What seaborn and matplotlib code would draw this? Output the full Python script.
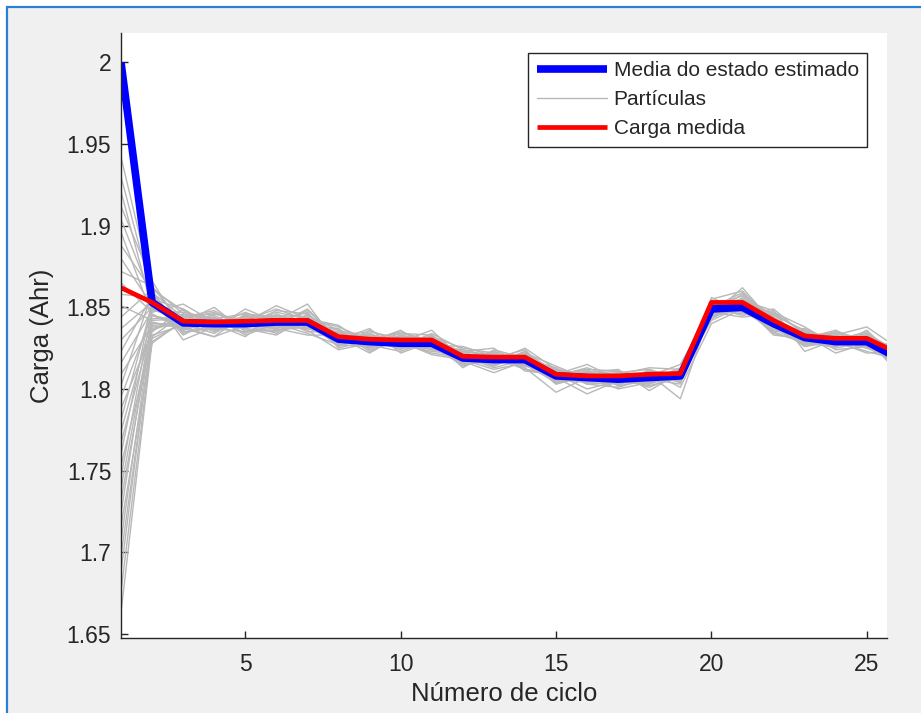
import numpy as np
import pandas as pd
import seaborn as sns
import matplotlib.pyplot as plt
from matplotlib.lines import Line2D
from matplotlib.patches import Rectangle

# Ciclos 1..26 (o eixo termina um pouco antes de 26)
ciclos = list(range(1, 27))

# Media do estado estimado (Ahr)
media_estimada = [2.000, 1.853, 1.8405, 1.840, 1.840, 1.841, 1.841, 1.8305, 1.829, 1.828,
                  1.828, 1.819, 1.818, 1.818, 1.808, 1.807, 1.806, 1.807, 1.808, 1.849,
                  1.850, 1.840, 1.8315, 1.829, 1.829, 1.819]

# Carga medida (Ahr)
carga_medida = [1.862, 1.853, 1.8415, 1.841, 1.8415, 1.842, 1.842, 1.832, 1.8305, 1.830,
                1.830, 1.820, 1.8195, 1.8195, 1.809, 1.808, 1.808, 1.809, 1.8095, 1.853,
                1.853, 1.842, 1.8325, 1.831, 1.831, 1.822]

# Particulas, em mAhr (uma linha por particula, ciclos 1..26)
particulas_mah = [
    [1942, 1862, 1846, 1843, 1838, 1845, 1844, 1833, 1826, 1831, 1830, 1822, 1815, 1821, 1811, 1804, 1809, 1810, 1805, 1852, 1855, 1843, 1834, 1826, 1832, 1822],
    [1930, 1858, 1838, 1846, 1842, 1837, 1843, 1828, 1833, 1826, 1825, 1823, 1820, 1815, 1805, 1810, 1808, 1803, 1811, 1846, 1853, 1846, 1828, 1833, 1827, 1816],
    [1921, 1849, 1843, 1835, 1844, 1843, 1838, 1834, 1827, 1832, 1831, 1816, 1821, 1820, 1812, 1803, 1804, 1809, 1806, 1851, 1847, 1838, 1835, 1826, 1833, 1821],
    [1912, 1866, 1836, 1842, 1839, 1848, 1846, 1829, 1831, 1824, 1833, 1820, 1814, 1823, 1806, 1811, 1802, 1805, 1813, 1847, 1858, 1842, 1830, 1832, 1825, 1817],
    [1904, 1855, 1849, 1838, 1845, 1836, 1840, 1836, 1825, 1830, 1826, 1824, 1819, 1812, 1810, 1805, 1810, 1812, 1804, 1853, 1849, 1835, 1836, 1828, 1831, 1824],
    [1896, 1845, 1841, 1850, 1835, 1842, 1852, 1827, 1830, 1835, 1829, 1815, 1823, 1818, 1803, 1809, 1807, 1801, 1809, 1844, 1856, 1844, 1829, 1830, 1835, 1815],
    [1888, 1860, 1834, 1839, 1847, 1839, 1837, 1831, 1834, 1827, 1823, 1821, 1816, 1822, 1814, 1806, 1803, 1808, 1815, 1850, 1845, 1849, 1833, 1822, 1828, 1820],
    [1880, 1851, 1845, 1836, 1841, 1851, 1843, 1839, 1826, 1829, 1836, 1818, 1812, 1816, 1807, 1812, 1811, 1806, 1803, 1848, 1852, 1837, 1827, 1835, 1830, 1826],
    [1872, 1863, 1839, 1844, 1833, 1840, 1848, 1832, 1822, 1833, 1827, 1826, 1820, 1814, 1809, 1800, 1805, 1811, 1808, 1855, 1860, 1841, 1832, 1829, 1823, 1818],
    [1865, 1847, 1852, 1841, 1843, 1838, 1841, 1826, 1832, 1825, 1831, 1813, 1824, 1819, 1804, 1808, 1800, 1804, 1810, 1842, 1851, 1847, 1838, 1827, 1834, 1823],
    [1858, 1856, 1837, 1832, 1846, 1844, 1835, 1835, 1829, 1836, 1824, 1822, 1817, 1825, 1812, 1805, 1808, 1809, 1794, 1849, 1848, 1839, 1826, 1831, 1829, 1813],
    [1851, 1842, 1843, 1847, 1837, 1833, 1844, 1830, 1837, 1822, 1829, 1817, 1810, 1817, 1808, 1813, 1806, 1802, 1807, 1851, 1857, 1845, 1836, 1824, 1826, 1821],
    [1844, 1861, 1848, 1840, 1832, 1846, 1839, 1837, 1824, 1830, 1832, 1825, 1822, 1813, 1798, 1807, 1809, 1813, 1812, 1846, 1850, 1834, 1829, 1833, 1838, 1825],
    [1837, 1853, 1835, 1837, 1849, 1841, 1847, 1825, 1830, 1828, 1822, 1819, 1815, 1820, 1811, 1803, 1801, 1807, 1805, 1856, 1847, 1843, 1831, 1836, 1827, 1816],
    [1830, 1850, 1842, 1845, 1836, 1837, 1833, 1833, 1835, 1831, 1827, 1814, 1819, 1824, 1806, 1810, 1812, 1799, 1810, 1845, 1862, 1840, 1834, 1827, 1832, 1819],
    [1823, 1857, 1830, 1838, 1842, 1849, 1842, 1829, 1827, 1823, 1830, 1823, 1825, 1811, 1809, 1815, 1806, 1805, 1808, 1852, 1854, 1848, 1823, 1830, 1825, 1822],
    [1816, 1848, 1847, 1843, 1840, 1834, 1845, 1836, 1831, 1834, 1833, 1820, 1813, 1818, 1813, 1804, 1803, 1811, 1801, 1840, 1849, 1836, 1837, 1828, 1831, 1810],
    [1809, 1839, 1840, 1834, 1845, 1843, 1836, 1824, 1828, 1826, 1825, 1816, 1821, 1815, 1804, 1808, 1810, 1808, 1811, 1848, 1846, 1844, 1830, 1825, 1829, 1824],
    [1802, 1859, 1844, 1848, 1838, 1839, 1849, 1831, 1833, 1829, 1821, 1818, 1818, 1821, 1807, 1797, 1805, 1806, 1807, 1850, 1859, 1838, 1827, 1831, 1834, 1820],
    [1795, 1846, 1836, 1841, 1844, 1845, 1840, 1834, 1825, 1832, 1828, 1821, 1816, 1823, 1810, 1806, 1808, 1810, 1806, 1843, 1853, 1841, 1833, 1834, 1828, 1817],
    [1788, 1835, 1849, 1837, 1835, 1836, 1838, 1828, 1834, 1826, 1834, 1824, 1820, 1816, 1805, 1811, 1804, 1803, 1809, 1847, 1844, 1846, 1835, 1829, 1822, 1823],
    [1781, 1852, 1838, 1832, 1839, 1847, 1843, 1838, 1830, 1830, 1826, 1819, 1823, 1812, 1808, 1807, 1806, 1809, 1804, 1854, 1851, 1835, 1828, 1826, 1836, 1818],
    [1774, 1843, 1844, 1846, 1842, 1840, 1834, 1827, 1826, 1833, 1829, 1815, 1817, 1819, 1812, 1809, 1811, 1805, 1812, 1849, 1855, 1842, 1832, 1832, 1830, 1821],
    [1767, 1838, 1839, 1839, 1837, 1835, 1846, 1832, 1832, 1827, 1831, 1822, 1814, 1822, 1806, 1804, 1807, 1807, 1808, 1845, 1848, 1839, 1829, 1827, 1827, 1825],
    [1760, 1854, 1833, 1843, 1846, 1842, 1841, 1830, 1829, 1825, 1826, 1820, 1819, 1817, 1809, 1812, 1802, 1812, 1806, 1851, 1850, 1847, 1834, 1830, 1833, 1814],
    [1753, 1832, 1846, 1836, 1841, 1838, 1839, 1835, 1823, 1831, 1828, 1817, 1822, 1814, 1811, 1806, 1809, 1804, 1810, 1847, 1852, 1833, 1831, 1835, 1828, 1819],
    [1746, 1849, 1841, 1844, 1834, 1844, 1842, 1826, 1836, 1828, 1824, 1823, 1816, 1820, 1803, 1808, 1805, 1808, 1807, 1852, 1849, 1844, 1826, 1829, 1831, 1822],
    [1739, 1841, 1837, 1840, 1843, 1841, 1837, 1833, 1828, 1834, 1830, 1818, 1821, 1818, 1810, 1810, 1808, 1806, 1809, 1846, 1854, 1840, 1833, 1833, 1826, 1816],
    [1732, 1836, 1843, 1838, 1839, 1837, 1844, 1829, 1830, 1827, 1827, 1821, 1818, 1815, 1808, 1805, 1806, 1810, 1805, 1849, 1847, 1842, 1830, 1828, 1829, 1820],
    [1724, 1845, 1838, 1842, 1840, 1842, 1840, 1832, 1827, 1829, 1829, 1816, 1820, 1819, 1805, 1809, 1807, 1805, 1808, 1844, 1851, 1838, 1832, 1831, 1830, 1818],
    [1716, 1828, 1842, 1839, 1838, 1840, 1839, 1828, 1831, 1826, 1832, 1820, 1817, 1817, 1807, 1808, 1805, 1809, 1806, 1850, 1849, 1841, 1829, 1830, 1828, 1821],
    [1707, 1840, 1840, 1837, 1842, 1839, 1842, 1831, 1829, 1830, 1826, 1818, 1819, 1816, 1809, 1806, 1807, 1807, 1810, 1847, 1850, 1839, 1831, 1829, 1831, 1819],
    [1698, 1833, 1839, 1841, 1839, 1843, 1838, 1830, 1828, 1828, 1828, 1819, 1816, 1818, 1806, 1807, 1806, 1808, 1807, 1848, 1852, 1840, 1830, 1828, 1830, 1817],
    [1688, 1837, 1841, 1838, 1841, 1840, 1841, 1829, 1830, 1827, 1829, 1817, 1818, 1817, 1808, 1808, 1806, 1806, 1808, 1849, 1849, 1841, 1831, 1829, 1829, 1820],
    [1676, 1831, 1840, 1840, 1840, 1841, 1840, 1830, 1829, 1829, 1827, 1819, 1818, 1819, 1807, 1807, 1807, 1807, 1809, 1848, 1851, 1840, 1831, 1830, 1829, 1819],
    [1663, 1829, 1841, 1839, 1840, 1839, 1841, 1831, 1828, 1828, 1828, 1818, 1817, 1818, 1808, 1806, 1806, 1808, 1808, 1850, 1850, 1840, 1830, 1829, 1828, 1818],
]

# tabela longa para o seaborn
linhas = []
for i, p in enumerate(particulas_mah):
    for c, v in zip(ciclos, p):
        linhas.append({"particula": i, "ciclo": c, "carga": v / 1000.0})
df_part = pd.DataFrame(linhas)

sns.set_style("ticks")
plt.rcParams['font.family'] = ['Liberation Sans', 'DejaVu Sans']

W, H = 921, 713
fig = plt.figure(figsize=(W / 100, H / 100), dpi=100, facecolor='white')
# moldura da janela (fundo cinza + borda azul)
fig.add_artist(Rectangle((7 / W, -0.05), 1.1, 1.05 - 7 / H, transform=fig.transFigure,
                         facecolor='#f0f0f0', edgecolor='#2a7fd2', lw=1.6, zorder=-5))

ax = fig.add_axes([121 / W, 1 - 638 / H, (887 - 121) / W, (638 - 33) / H])
ax.set_facecolor('white')

gray = '#b8b8b8'
sns.lineplot(data=df_part, x='ciclo', y='carga', units='particula', estimator=None,
             color=gray, lw=1.0, legend=False, ax=ax)
sns.lineplot(x=ciclos, y=media_estimada, color='#0000ff', lw=5.5,
             solid_capstyle='butt', ax=ax)
sns.lineplot(x=ciclos, y=carga_medida, color='#ff0000', lw=3.4,
             solid_capstyle='butt', ax=ax)

ax.set_xlim(1, 25.65)
ax.set_ylim(1.6475, 2.018)
ax.set_xticks([5, 10, 15, 20, 25])
ax.set_yticks([1.65, 1.7, 1.75, 1.8, 1.85, 1.9, 1.95, 2.0])
ax.set_yticklabels(['1.65', '1.7', '1.75', '1.8', '1.85', '1.9', '1.95', '2'])

sns.despine(ax=ax)
for s in ['left', 'bottom']:
    ax.spines[s].set_color('#262626')
    ax.spines[s].set_linewidth(1.0)
ax.tick_params(axis='both', direction='in', length=5, width=1, color='#262626',
               labelcolor='#262626', labelsize=16.5)
ax.tick_params(axis='x', pad=11)
ax.tick_params(axis='y', pad=7)

ax.set_xlabel('Número de ciclo', fontsize=18.5, color='#262626', labelpad=4)
ax.set_ylabel('Carga (Ahr)', fontsize=18.5, color='#262626', labelpad=9)

handles = [Line2D([], [], color='#0000ff', lw=5.5, solid_capstyle='butt'),
           Line2D([], [], color=gray, lw=1.0),
           Line2D([], [], color='#ff0000', lw=3.4, solid_capstyle='butt')]
labels = ['Media do estado estimado', 'Partículas', 'Carga medida']
leg = ax.legend(handles, labels, loc='upper right', bbox_to_anchor=(0.974, 0.967),
                borderaxespad=0, fontsize=15, frameon=True, fancybox=False,
                framealpha=1, edgecolor='#262626', handlelength=3.4,
                handletextpad=0.3, labelspacing=0.48, borderpad=0.4)
leg.get_frame().set_linewidth(1.0)
for t in leg.get_texts():
    t.set_color('#262626')

fig.savefig('out.png', dpi=100, facecolor=fig.get_facecolor())
